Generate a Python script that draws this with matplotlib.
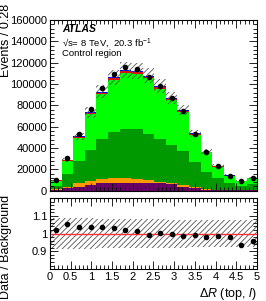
import numpy as np
import matplotlib
matplotlib.use("Agg")
import matplotlib.pyplot as plt
from matplotlib.ticker import MultipleLocator

plt.rcParams['font.family'] = ['Liberation Sans', 'DejaVu Sans']
plt.rcParams['mathtext.fontset'] = 'custom'
plt.rcParams['mathtext.rm'] = 'Liberation Sans'
plt.rcParams['mathtext.it'] = 'Liberation Sans:italic'
plt.rcParams['hatch.linewidth'] = 0.6

# bins in Delta R (top, l), width 0.28
bin_width = 0.28
n_bins = 18

# data counts per bin
data = [10000, 30400, 52900, 76300, 96000, 109700, 115600, 113800, 106900,
        98100, 86600, 74700, 53400, 36000, 22900, 14100, 8800, 11600]

# stacked backgrounds (bottom to top)
purple = [1000, 2800, 3750, 5000, 6900, 7500, 7500, 7500, 7000,
          6900, 6000, 3750, 2500, 1100, 700, 500, 300, 300]
orange = [800, 950, 3150, 3800, 3800, 4400, 4400, 3800, 3000,
          1500, 1500, 1250, 700, 500, 300, 200, 200, 100]
dark_green = [2900, 11850, 20900, 29300, 37700, 43400, 45900, 46200, 43100,
              40000, 35300, 32200, 23400, 16200, 11200, 6200, 3900, 6100]
light_green = [4850, 12600, 21900, 33600, 42200, 48800, 52850, 52050, 52300,
               47400, 42400, 36900, 25950, 18100, 10480, 7150, 4790, 5340]
red = [150, 400, 700, 1000, 1200, 1300, 1400, 1400, 1300,
       1200, 1000, 900, 650, 450, 300, 200, 120, 150]
blue = [100, 300, 500, 700, 900, 1000, 1050, 1050, 1000,
        900, 800, 700, 500, 350, 220, 150, 90, 110]

# relative background uncertainty (top panel band / ratio band)
unc_top = [0.07, 0.07, 0.07, 0.068, 0.067, 0.066, 0.066, 0.066, 0.066,
           0.066, 0.066, 0.066, 0.066, 0.066, 0.066, 0.066, 0.066, 0.066]
unc_ratio = [0.087, 0.087, 0.086, 0.085, 0.084, 0.083, 0.082, 0.081, 0.08,
             0.08, 0.079, 0.079, 0.078, 0.078, 0.078, 0.077, 0.077, 0.077]

components = [purple, orange, dark_green, light_green, red, blue]
colors = ['#660066', '#ff9900', '#009900', '#00ff00', '#ff0000', '#0000ff']

edges = np.arange(n_bins) * bin_width
centers = edges + bin_width / 2
data = np.array(data, dtype=float)
total = np.sum(np.array(components, dtype=float), axis=0)
ratio = data / total

W, H = 266, 301
fig = plt.figure(figsize=(W / 100, H / 100), dpi=100)
ax = fig.add_axes([0.188, 0.3664, 0.778, 0.567])
axr = fig.add_axes([0.188, 0.106, 0.778, 0.236])

bottom = np.zeros(n_bins)
for vals, c in zip(components, colors):
    ax.bar(edges, vals, width=bin_width, bottom=bottom, align='edge',
           color=c, linewidth=0)
    bottom = bottom + np.array(vals)

u = np.array(unc_top)
ax.bar(edges, 2 * u * total, width=bin_width, bottom=total * (1 - u),
       align='edge', fill=False, hatch='//////', edgecolor='#555555',
       linewidth=0)
ax.errorbar(centers, data, yerr=np.sqrt(data), fmt='o', color='black',
            markersize=3, elinewidth=0.8, capsize=0)

ax.set_xlim(0, 5)
ax.set_ylim(0, 160000)
ax.yaxis.set_major_locator(MultipleLocator(20000))
ax.yaxis.set_minor_locator(MultipleLocator(4000))
ax.xaxis.set_major_locator(MultipleLocator(0.5))
ax.xaxis.set_minor_locator(MultipleLocator(0.1))
ax.tick_params(labelbottom=False)

fig.text(62 / W, 1 - 29.5 / H, 'ATLAS', fontsize=7.5,
         fontweight='bold', fontstyle='italic', va='center')
fig.text(62 / W, 1 - 43 / H, '\u221as= 8 TeV,  20.3 fb$^{-1}$',
         fontsize=6.8, va='center')
fig.text(62 / W, 1 - 53.5 / H, 'Control region', fontsize=6.8, va='center')

fig.text(6.5 / W, 1 - 4 / H, 'Events / 0.28', rotation=90, fontsize=9,
         ha='center', va='top')
fig.text(6.5 / W, 1 - 247 / H, 'Data / Background', rotation=90, fontsize=9,
         ha='center', va='center')

# ratio panel
ur = np.array(unc_ratio)
axr.bar(edges, 2 * ur, width=bin_width, bottom=1 - ur, align='edge',
        fill=False, hatch='//////', edgecolor='#555555', linewidth=0)
axr.axhline(1, color='#ff3333', linewidth=1)
axr.plot(centers, ratio, 'o', color='black', markersize=3)
axr.set_xlim(0, 5)
axr.set_ylim(0.8, 1.2)
axr.set_yticks([0.9, 1.0, 1.1])
axr.set_yticklabels(['0.9', '1', '1.1'])
axr.yaxis.set_minor_locator(MultipleLocator(0.02))
axr.set_xticks(np.arange(0, 5.01, 0.5))
axr.set_xticklabels(['0', '0.5', '1', '1.5', '2', '2.5', '3', '3.5', '4', '4.5', '5'])
axr.xaxis.set_minor_locator(MultipleLocator(0.1))
axr.set_xlabel(r'$\Delta R$ (top, $l$)', fontsize=9, loc='right', labelpad=3)

for a in (ax, axr):
    a.tick_params(which='both', direction='in', top=True, right=True,
                  labelsize=8, width=0.6, pad=2)
    a.tick_params(which='major', length=6)
    a.tick_params(which='minor', length=3)
    for s in a.spines.values():
        s.set_linewidth(0.8)

fig.savefig('out.png', dpi=100)
